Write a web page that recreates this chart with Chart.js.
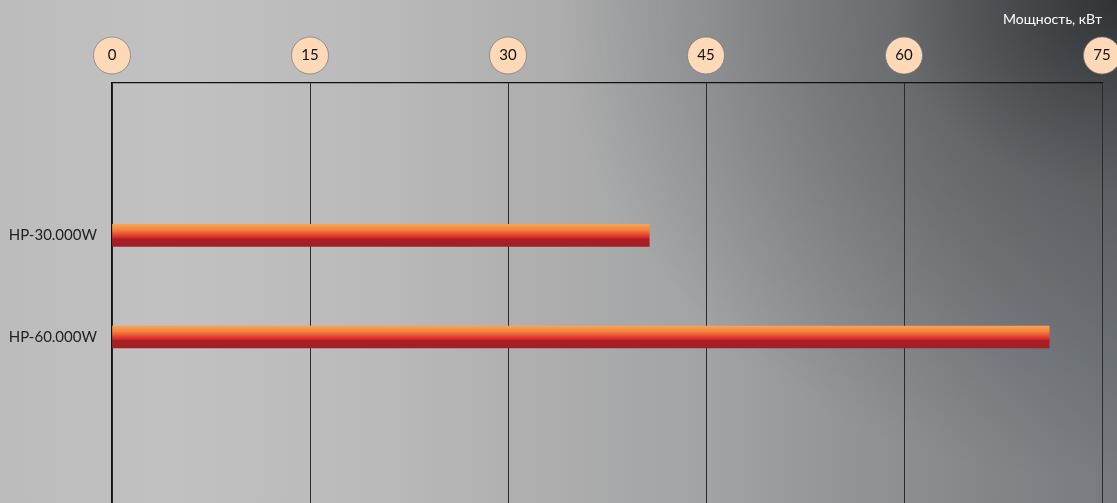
<!DOCTYPE html>
<html>
<head>
<meta charset="utf-8">
<script src="https://cdn.jsdelivr.net/npm/chart.js@4"></script>
<style>
  html, body { margin: 0; padding: 0; width: 1117px; height: 503px; overflow: hidden; }
  body {
    background:
      radial-gradient(ellipse 560px 480px at 100% 0%, rgba(38,41,44,0.88) 0%, rgba(55,58,61,0.42) 40%, rgba(80,83,86,0) 100%),
      linear-gradient(to right, #bcbcbc 0%, #c1c1c1 15%, #b9b9b9 35%, #adadad 50%, #a1a3a5 63%, #929598 76%, #83878a 88%, #777b7f 100%);
  }
  #chart { position: absolute; left: 0; top: 0; }
</style>
</head>
<body>
<canvas id="chart" width="1117" height="591"></canvas>
<script>
// Heat pump models and their power, kW
const models = ['HP-30.000W', 'HP-60.000W'];
const powerKw = [40.7, 71];
const xTicks = [0, 15, 30, 45, 60, 75];
const axisTitle = 'Мощность, кВт';

// one empty slot above and two below the models keep the bars in the upper half
const labels = ['', ...models, '', ''];
const values = [null, ...powerKw, null, null];

const BAR_H = 22;

function barGradient(ctx) {
  const chart = ctx.chart;
  const yScale = chart.scales.y;
  if (!yScale || ctx.dataIndex === undefined) return '#d0242a';
  const yc = yScale.getPixelForValue(ctx.dataIndex);
  if (!isFinite(yc)) return '#d0242a';
  const g = chart.ctx.createLinearGradient(0, yc - BAR_H / 2, 0, yc + BAR_H / 2);
  g.addColorStop(0.00, '#f9a452');
  g.addColorStop(0.25, '#f3813e');
  g.addColorStop(0.45, '#e54e30');
  g.addColorStop(0.62, '#d3222a');
  g.addColorStop(0.66, '#a91f26');
  g.addColorStop(1.00, '#a51e25');
  return g;
}

// peach discs behind the top axis numbers
const tickDiscs = {
  id: 'tickDiscs',
  beforeDraw(chart) {
    const x = chart.scales.x;
    const c = chart.ctx;
    c.save();
    x.ticks.forEach(t => {
      const px = x.getPixelForValue(t.value);
      c.beginPath();
      c.arc(px, 55.5, 18.5, 0, Math.PI * 2);
      c.fillStyle = '#fed9b8';
      c.fill();
      c.lineWidth = 1;
      c.strokeStyle = 'rgba(120,120,120,0.7)';
      c.stroke();
    });
    c.restore();
  }
};

new Chart(document.getElementById('chart'), {
  type: 'bar',
  data: {
    labels: labels,
    datasets: [{
      data: values,
      backgroundColor: barGradient,
      borderWidth: 0,
      barThickness: BAR_H
    }]
  },
  options: {
    indexAxis: 'y',
    responsive: false,
    animation: false,
    layout: { padding: { left: 0, right: 15, top: 0, bottom: 0 } },
    plugins: {
      legend: { display: false },
      tooltip: { enabled: false }
    },
    scales: {
      x: {
        position: 'top',
        min: 0,
        max: 75,
        afterBuildTicks: s => { s.ticks = xTicks.map(v => ({ value: v })); },
        afterFit: s => { s.height = 83; s.paddingLeft = 0; s.paddingRight = 0; },
        ticks: {
          color: '#111',
          padding: 18.5,
          font: { family: 'Lato, "Open Sans", sans-serif', size: 15 }
        },
        grid: { color: '#2a2a2a', lineWidth: 1, drawTicks: false },
        border: { color: '#111', width: 1.3 },
        title: {
          display: true,
          text: axisTitle,
          align: 'end',
          color: '#ffffff',
          font: { family: 'Lato, "Open Sans", sans-serif', size: 14 },
          padding: { top: 11, bottom: 0 }
        }
      },
      y: {
        afterFit: s => { s.width = 112; s.paddingTop = 0; s.paddingBottom = 0; },
        ticks: {
          color: '#222',
          padding: 15,
          font: { family: 'Lato, "Open Sans", sans-serif', size: 15 }
        },
        grid: { display: false, drawTicks: false },
        border: { color: '#111', width: 1.3 }
      }
    }
  },
  plugins: [tickDiscs]
});
</script>
</body>
</html>
